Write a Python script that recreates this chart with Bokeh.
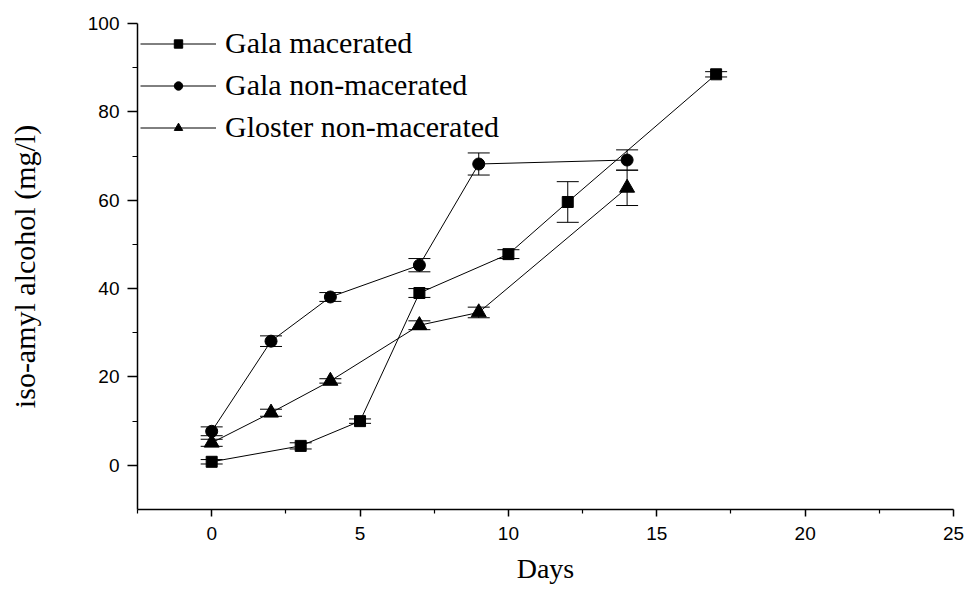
from bokeh.plotting import figure
from bokeh.models import (ColumnDataSource, Whisker, TeeHead, FixedTicker,
                          Legend, LegendItem, Range1d)
from bokeh.embed import file_html
from bokeh.resources import INLINE

# Data
days_gm = [0, 3, 5, 7, 10, 12, 17]
val_gm = [0.8, 4.4, 10.0, 39.0, 47.8, 59.6, 88.5]
err_gm = [0.5, 0.7, 0.5, 1.0, 1.0, 4.6, 0.6]

days_gn = [0, 2, 4, 7, 9, 14]
val_gn = [7.7, 28.1, 38.1, 45.3, 68.2, 69.1]
err_gn = [1.0, 1.2, 1.0, 1.5, 2.5, 2.3]

days_gl = [0, 2, 4, 7, 9, 14]
val_gl = [5.1, 11.9, 19.1, 31.7, 34.6, 62.8]
err_gl = [0.8, 0.8, 0.5, 1.0, 1.2, 4.0]

names = ["Gala macerated", "Gala non-macerated", "Gloster non-macerated"]
x_ticks = [0, 5, 10, 15, 20, 25]
x_minor = [-2.5, 2.5, 7.5, 12.5, 17.5, 22.5]
y_ticks = [0, 20, 40, 60, 80, 100]
y_minor = [10, 30, 50, 70, 90]

p = figure(width=967, height=591, output_backend="svg", toolbar_location=None,
           x_range=Range1d(-2.5, 25), y_range=Range1d(-10, 100),
           min_border_left=137, min_border_right=14, min_border_top=23,
           min_border_bottom=82)
p.outline_line_color = None
p.xgrid.visible = False
p.ygrid.visible = False
p.background_fill_color = "white"
p.border_fill_color = "white"

for ax in (p.xaxis[0], p.yaxis[0]):
    ax.axis_line_width = 1.5
    ax.axis_line_color = "black"
    ax.major_tick_line_color = "black"
    ax.minor_tick_line_color = "black"
    ax.major_tick_line_width = 1.5
    ax.minor_tick_line_width = 1.2
    ax.major_tick_in = 0
    ax.minor_tick_in = 0
    ax.major_label_text_font = "Liberation Sans"
    ax.major_label_text_font_size = "19px"
    ax.major_label_text_color = "black"
    ax.axis_label_text_font = "Liberation Serif"
    ax.axis_label_text_font_style = "normal"
    ax.axis_label_text_color = "black"

p.xaxis.ticker = FixedTicker(ticks=x_ticks, minor_ticks=x_minor)
p.yaxis.ticker = FixedTicker(ticks=y_ticks, minor_ticks=y_minor)
p.xaxis.major_tick_out = 7
p.xaxis.minor_tick_out = 4
p.yaxis.major_tick_out = 10
p.yaxis.minor_tick_out = 5
p.xaxis.major_label_standoff = 10
p.yaxis.major_label_standoff = 8
p.xaxis.axis_label = "Days"
p.yaxis.axis_label = "iso-amyl alcohol (mg/l)"
p.xaxis.axis_label_text_font_size = "28px"
p.yaxis.axis_label_text_font_size = "30px"
p.xaxis.axis_label_standoff = 10
p.yaxis.axis_label_standoff = 44

series = [
    (days_gm, val_gm, err_gm, "square", 11),
    (days_gn, val_gn, err_gn, "circle", 12),
    (days_gl, val_gl, err_gl, "triangle", 15),
]

items = []
for (xs, ys, es, marker, size), name in zip(series, names):
    src = ColumnDataSource(dict(x=xs, y=ys,
                                lo=[v - e for v, e in zip(ys, es)],
                                hi=[v + e for v, e in zip(ys, es)]))
    lr = p.line("x", "y", source=src, line_color="black", line_width=1)
    w = Whisker(base="x", lower="lo", upper="hi", source=src,
                line_color="black", line_width=1,
                upper_head=TeeHead(size=22, line_color="black", line_width=1),
                lower_head=TeeHead(size=22, line_color="black", line_width=1))
    p.add_layout(w)
    sr = p.scatter("x", "y", source=src, marker=marker, size=size,
                   fill_color="black", line_color="black")
    items.append(LegendItem(label=name, renderers=[lr, sr]))

legend = Legend(items=items, location="top_left", margin=0, padding=3,
                glyph_width=76, glyph_height=21, label_height=34,
                spacing=8, label_standoff=9,
                label_text_font="Liberation Serif", label_text_font_size="30px",
                label_text_color="black",
                background_fill_alpha=0, border_line_alpha=0)
p.add_layout(legend)

open("out.html", "w").write(file_html(p, INLINE))
